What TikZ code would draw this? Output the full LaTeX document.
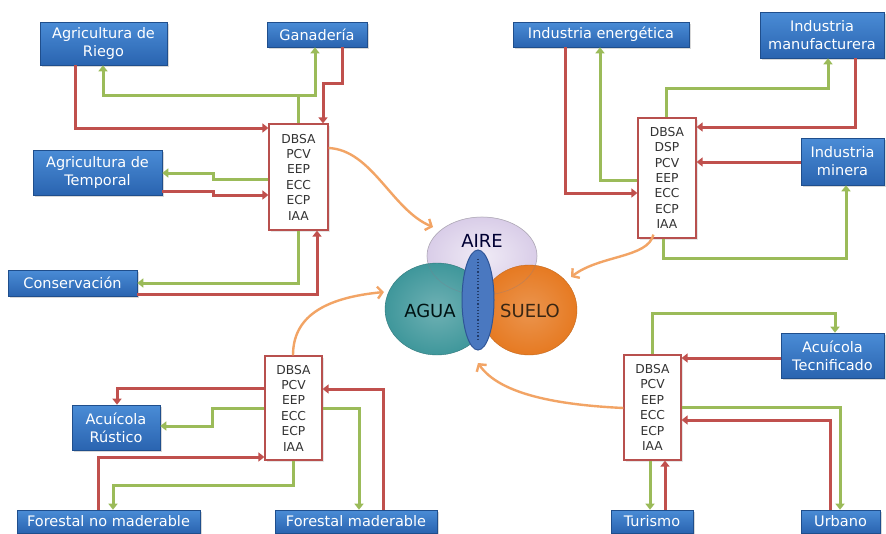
\documentclass[tikz,border=0pt]{standalone}
\usepackage{fontspec}
\setmainfont{DejaVu Sans}
\usetikzlibrary{arrows.meta,shapes.geometric,shadows}
\definecolor{boxblue}{HTML}{2A64B0}
\definecolor{boxbluetop}{HTML}{4A8CD6}
\definecolor{boxblueedge}{HTML}{1F4E8C}
\definecolor{lnred}{HTML}{C0504D}
\definecolor{lngreen}{HTML}{9BBB59}
\definecolor{lnorange}{HTML}{F2A465}
\definecolor{listedge}{HTML}{B8504E}
\definecolor{airefill}{HTML}{D9CDE8}
\definecolor{aguafill}{HTML}{3F979B}
\definecolor{suelofill}{HTML}{E67A22}
\definecolor{coreblue}{HTML}{4A78C0}
\definecolor{coreedge}{HTML}{2F5597}
\tikzset{
  sector/.style={rectangle, draw=boxblueedge, line width=0.6pt,
    top color=boxbluetop, bottom color=boxblue, text=white,
    font=\fontsize{14.5}{18}\selectfont, align=center, inner sep=0pt,
    drop shadow={shadow xshift=1.5pt, shadow yshift=-1.5pt, opacity=0.3}},
  listbox/.style={rectangle, draw=listedge, line width=1.2pt, fill=white,
    font=\fontsize{12.3}{15.4}\selectfont, text=black!80, align=center, inner sep=0pt,
    drop shadow={shadow xshift=1.5pt, shadow yshift=-1.5pt, opacity=0.2}},
  redln/.style={draw=lnred, line width=3pt, -{Triangle[length=6pt,width=9pt]}},
  grnln/.style={draw=lngreen, line width=3pt, -{Triangle[length=6pt,width=9pt]}},
  orgln/.style={draw=lnorange, line width=2.4pt, -{Straight Barb[length=5pt,width=12pt]}},
  venn/.style={ellipse, inner sep=0pt},
  vennlbl/.style={font=\fontsize{18}{20}\selectfont, inner sep=0pt}
}
\begin{document}
\begin{tikzpicture}[x=1pt,y=-1pt]
\useasboundingbox[fill=white] (0,0) rectangle (886,533);

% ---------- sector boxes ----------
\node[sector, minimum width=127pt, minimum height=43pt] (riego) at (103.5,43.5) {Agricultura de\\Riego};
\node[sector, minimum width=100pt, minimum height=25pt] (ganaderia) at (317,34.5) {Ganadería};
\node[sector, minimum width=129pt, minimum height=45pt] (temporal) at (97.5,172.5) {Agricultura de\\Temporal};
\node[sector, minimum width=129pt, minimum height=26pt] (conservacion) at (72.5,283) {Conservación};
\node[sector, minimum width=176pt, minimum height=25pt] (energetica) at (601,34.5) {Industria energética};
\node[sector, minimum width=124pt, minimum height=46pt] (manuf) at (822,35) {Industria\\manufacturera};
\node[sector, minimum width=83pt, minimum height=47pt] (minera) at (842.5,161.5) {Industria\\minera};
\node[sector, minimum width=88pt, minimum height=45pt] (rustico) at (116,427.5) {Acuícola\\Rústico};
\node[sector, minimum width=183pt, minimum height=23pt] (fnm) at (108.5,521.5) {Forestal no maderable};
\node[sector, minimum width=162pt, minimum height=23pt] (fm) at (356,521.5) {Forestal maderable};
\node[sector, minimum width=103pt, minimum height=45pt] (tecn) at (832.5,355.5) {Acuícola\\Tecnificado};
\node[sector, minimum width=82pt, minimum height=23pt] (turismo) at (652,521.5) {Turismo};
\node[sector, minimum width=79pt, minimum height=23pt] (urbano) at (840.5,521.5) {Urbano};

% ---------- indicator lists ----------
\node[listbox, minimum width=59pt, minimum height=106pt] (tlb) at (298.5,177) {DBSA\\PCV\\EEP\\ECC\\ECP\\IAA};
\node[listbox, minimum width=58pt, minimum height=120pt] (trb) at (667,178) {DBSA\\DSP\\PCV\\EEP\\ECC\\ECP\\IAA};
\node[listbox, minimum width=57pt, minimum height=104pt] (blb) at (293.5,408) {DBSA\\PCV\\EEP\\ECC\\ECP\\IAA};
\node[listbox, minimum width=57pt, minimum height=105pt] (brb) at (652.5,407.5) {DBSA\\PCV\\EEP\\ECC\\ECP\\IAA};

% ---------- Venn ----------
\node[venn, minimum width=110pt, minimum height=78pt, inner color=airefill!40!white, outer color=airefill, draw=airefill!70!black!60] (aire) at (482,256) {};
\node[venn, minimum width=104pt, minimum height=92pt, inner color=aguafill!75!white, outer color=aguafill, draw=aguafill!80!black] (agua) at (437,309) {};
\node[venn, minimum width=96pt, minimum height=90pt, inner color=suelofill!80!white, outer color=suelofill, draw=suelofill!85!black] (suelo) at (529,310) {};
\draw[airefill!60!black, opacity=0.35, line width=0.6pt] (482,256) ellipse [x radius=55, y radius=39];
\node[venn, minimum width=32pt, minimum height=100pt, fill=coreblue, draw=coreedge, line width=1pt] (core) at (478,300) {};
\draw[coreedge!70!black, dotted, line width=1.2pt] ([yshift=-9pt]core.north) -- ([yshift=9pt]core.south);
\node[vennlbl, text=black!80!blue] (airelbl) at (482,241) {AIRE};
\node[vennlbl, text=black!85!teal] (agualbl) at (430,311) {AGUA};
\node[vennlbl, text=black!70!brown] (suelolbl) at (530,311) {SUELO};

% ---------- top-left connectors ----------
\coordinate (jtl) at (298,95);
\draw[redln] (riego.south -| 75,0) |- (tlb.west |- 0,128);
\draw[grnln] (tlb.north -| 298,0) -- (jtl) -| (riego.south -| 103,0);
\draw[grnln] (jtl) -| (ganaderia.south -| 315,0);
\draw[redln] (ganaderia.south -| 342,0) -- (342,83) -| (tlb.north -| 323,0);
\draw[grnln] (tlb.west |- 0,179) -- (213,179) -- (213,173) -- (temporal.east |- 0,173);
\draw[redln] (temporal.east |- 0,191) -- (213,191) -- (213,195) -- (tlb.west |- 0,195);
\draw[grnln] (tlb.south -| 298,0) |- (conservacion.east |- 0,283);
\draw[redln] (conservacion.east |- 0,294) -| (tlb.south -| 317,0);

% ---------- top-right connectors ----------
\draw[redln] (energetica.south -| 565,0) |- (trb.west |- 0,193);
\draw[grnln] (trb.west |- 0,180) -| (energetica.south -| 600,0);
\draw[grnln] (trb.north -| 666,0) -- (666,88) -| (manuf.south -| 828,0);
\draw[redln] (manuf.south -| 855,0) |- (trb.east |- 0,127);
\draw[redln] (minera.west |- 0,162) -- (trb.east |- 0,162);
\draw[grnln] (trb.south -| 663,0) -- (663,258) -| (minera.south -| 846,0);

% ---------- bottom-left connectors ----------
\draw[redln] (blb.west |- 0,388) -| (rustico.north -| 117,0);
\draw[grnln] (blb.west |- 0,408) -- (212,408) -- (212,426) -- (rustico.east |- 0,426);
\draw[redln] (fnm.north -| 98,0) |- (blb.west |- 0,457);
\draw[grnln] (blb.south -| 293,0) -- (293,485) -| (fnm.north -| 113,0);
\draw[grnln] (blb.east |- 0,408) -| (fm.north -| 359,0);
\draw[redln] (fm.north -| 383,0) |- (blb.east |- 0,389);

% ---------- bottom-right connectors ----------
\draw[grnln] (brb.north -| 652,0) -- (652,313) -| (tecn.north -| 835,0);
\draw[redln] (tecn.west |- 0,358) -- (brb.east |- 0,358);
\draw[grnln] (brb.east |- 0,407) -| (urbano.north -| 840,0);
\draw[redln] (urbano.north -| 830,0) |- (brb.east |- 0,420);
\draw[grnln] (brb.south -| 650,0) -- (turismo.north -| 650,0);
\draw[redln] (turismo.north -| 665,0) -- (brb.south -| 665,0);

% ---------- orange impact arrows ----------
\coordinate (otl) at (433,227);
\coordinate (otr) at (571,277);
\coordinate (obl) at (384,292);
\coordinate (obr) at (478,363);
\draw[orgln] (tlb.east |- 0,148) .. controls (372,150) and (392,210) .. (otl);
\draw[orgln] (trb.south west) ++(16,-4) .. controls (648,258) and (600,255) .. (otr);
\draw[orgln] (blb.north -| 293,0) .. controls (293,318) and (322,298) .. (obl);
\draw[orgln] (brb.west |- 0,408) .. controls (560,405) and (500,395) .. (obr);
\end{tikzpicture}
\end{document}
